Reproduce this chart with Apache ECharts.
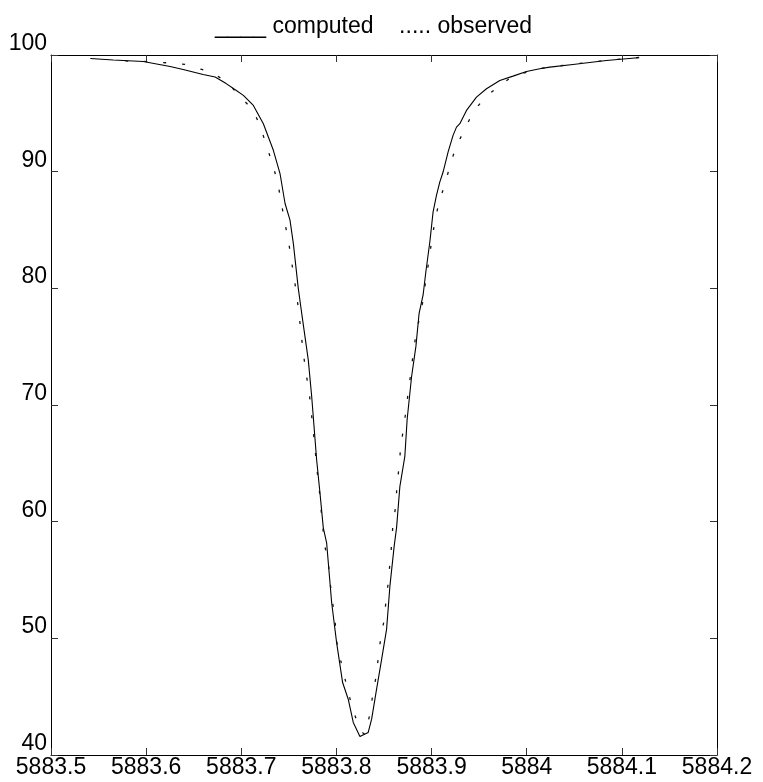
<!DOCTYPE html>
<html>
<head>
<meta charset="utf-8">
<script src="https://cdn.jsdelivr.net/npm/echarts@6/dist/echarts.min.js"></script>
<style>
html,body{margin:0;padding:0;background:#fff;}
#chart{width:763px;height:782px;}
</style>
</head>
<body>
<div id="chart"></div>
<script>
// ---- data ----
const legendText = "____ computed    ..... observed";

const xTicks = [5883.5, 5883.6, 5883.7, 5883.8, 5883.9, 5884.0, 5884.1, 5884.2];
const yTicks = [40, 50, 60, 70, 80, 90, 100];

const computedWavelength = [
  5883.5413, 5883.5654, 5883.5969, 5883.6252, 5883.6389, 5883.6599, 5883.6725, 5883.6841,
  5883.6925, 5883.7022, 5883.7127, 5883.7232, 5883.7337, 5883.7407, 5883.7460, 5883.7512, 5883.7547,
  5883.7599, 5883.7635, 5883.7704, 5883.7740, 5883.7792, 5883.7827, 5883.7862, 5883.7897,
  5883.7950, 5883.8002, 5883.8065, 5883.8124, 5883.8177, 5883.8247, 5883.8334, 5883.8370,
  5883.8422, 5883.8475, 5883.8527, 5883.8562, 5883.8607, 5883.8632, 5883.8667, 5883.8719,
  5883.8743, 5883.8790, 5883.8835, 5883.8869, 5883.8911, 5883.8940, 5883.8982, 5883.9016,
  5883.9052, 5883.9087, 5883.9121, 5883.9174, 5883.9226, 5883.9262, 5883.9297, 5883.9367,
  5883.9472, 5883.9577, 5883.9717, 5883.9856, 5883.9997, 5884.0137, 5884.0242, 5884.0486,
  5884.0837, 5884.1168
];
const computedValue = [
  99.70, 99.57, 99.44, 99.02, 98.76, 98.33, 98.12, 97.55,
  97.08, 96.54, 95.68, 94.11, 91.83, 89.84, 87.27, 85.84, 83.85,
  80.00, 77.86, 73.87, 70.73, 65.31, 62.46, 59.47, 58.19,
  53.05, 49.63, 46.21, 44.78, 42.79, 41.59, 41.93, 43.07,
  45.64, 48.20, 50.77, 54.47, 57.90, 59.47, 63.03, 65.59,
  68.73, 72.44, 75.00, 77.86, 79.43, 81.42, 83.99, 86.55,
  87.98, 89.12, 89.97, 91.69, 93.11, 93.82, 94.11, 95.25,
  96.39, 97.11, 97.82, 98.19, 98.59, 98.82, 98.96, 99.19,
  99.53, 99.76
];

const observedWavelength = [
  5883.5780, 5883.6008, 5883.6218, 5883.6410, 5883.6585, 5883.6707, 5883.6848, 5883.7127,
  5883.7204, 5883.7267, 5883.7330, 5883.7383, 5883.7418, 5883.7452, 5883.7494, 5883.7523,
  5883.7554, 5883.7582, 5883.7607, 5883.7628, 5883.7652, 5883.7677, 5883.7712, 5883.7733,
  5883.7754, 5883.7775, 5883.7792, 5883.7817, 5883.7834, 5883.7855, 5883.7872, 5883.7914,
  5883.7932, 5883.7956, 5883.7984, 5883.8002, 5883.8045, 5883.8098, 5883.8161, 5883.8247,
  5883.8300, 5883.8352, 5883.8380, 5883.8415, 5883.8439, 5883.8464, 5883.8499, 5883.8520,
  5883.8544, 5883.8562, 5883.8580, 5883.8593, 5883.8622, 5883.8635, 5883.8656, 5883.8674,
  5883.8701, 5883.8730, 5883.8754, 5883.8782, 5883.8806, 5883.8835, 5883.8919, 5883.8940,
  5883.8974, 5883.9000, 5883.9034, 5883.9076, 5883.9139, 5883.9192, 5883.9255, 5883.9349,
  5883.9436, 5883.9559, 5883.9706, 5883.9856, 5884.0137, 5884.0504, 5884.0872, 5884.1187
];
const observedValue = [
  99.49, 99.44, 99.33, 99.19, 98.76, 98.44, 97.67, 95.25,
  93.77, 92.17, 90.63, 89.03, 87.49, 85.84, 84.19, 82.57,
  80.99, 79.43, 77.78, 76.15, 74.49, 72.87, 71.24, 69.59,
  67.94, 66.32, 64.69, 63.03, 61.38, 59.75, 58.13, 56.53,
  54.90, 53.28, 51.68, 49.77, 48.10, 46.26, 44.21, 42.11,
  41.75, 43.50, 45.06, 46.64, 48.26, 49.91, 51.48, 53.10,
  54.76, 56.42, 58.04, 59.67, 61.27, 62.89, 64.57, 66.23,
  67.82, 69.44, 71.07, 72.73, 74.38, 76.01, 79.28, 80.86,
  82.42, 84.05, 85.70, 87.32, 88.90, 90.46, 92.11, 93.63,
  95.11, 96.34, 97.33, 98.19, 98.85, 99.23, 99.57, 99.79
];

// ---- chart ----
const FONT = "'Liberation Sans', Arial, sans-serif";
const pairs = (xs, ys) => xs.map((x, i) => [x, ys[i]]);
const fmtX = v => String(Number(v.toFixed(1)));

const xMin = xTicks[0], xMax = xTicks[xTicks.length - 1];
const yMin = yTicks[0], yMax = yTicks[yTicks.length - 1];
const xInt = 0.1, yInt = 10;

const chart = echarts.init(document.getElementById('chart'), null, {renderer: 'canvas'});

const baseX = {
  type: 'value', min: xMin, max: xMax, interval: xInt,
  axisLine: {show: true, lineStyle: {color: '#000', width: 1}},
  axisTick: {show: true, inside: true, length: 7, lineStyle: {color: '#333', width: 1}},
  splitLine: {show: false}
};
const baseY = {
  type: 'value', min: yMin, max: yMax, interval: yInt,
  axisLine: {show: true, lineStyle: {color: '#000', width: 1}},
  axisTick: {show: true, inside: true, length: 7, lineStyle: {color: '#333', width: 1}},
  splitLine: {show: false}
};

chart.setOption({
  animation: false,
  backgroundColor: '#fff',
  title: {
    text: legendText,
    left: 210, top: 10,
    textStyle: {fontFamily: FONT, fontSize: 23, fontWeight: 'normal', color: '#000'}
  },
  grid: {left: 51, right: 46, top: 55, bottom: 27, containLabel: false},
  xAxis: [
    Object.assign({}, baseX, {
      position: 'bottom',
      axisLabel: {show: true, margin: 1, formatter: fmtX, color: '#000',
        fontFamily: FONT, fontSize: 23, showMinLabel: true, showMaxLabel: true}
    }),
    Object.assign({}, baseX, {position: 'top', axisLabel: {show: false}})
  ],
  yAxis: [
    Object.assign({}, baseY, {
      position: 'left',
      axisLabel: {show: true, margin: 4, color: '#000', fontFamily: FONT, fontSize: 23,
        verticalAlign: 'bottom', lineHeight: 23, showMinLabel: true, showMaxLabel: true}
    }),
    Object.assign({}, baseY, {position: 'right', axisLabel: {show: false}})
  ],
  series: [
    {
      name: 'computed', type: 'line', xAxisIndex: 0, yAxisIndex: 0,
      data: pairs(computedWavelength, computedValue),
      showSymbol: false, symbol: 'none', smooth: false,
      lineStyle: {color: '#000', width: 1.1}
    },
    {
      name: 'observed', type: 'line', xAxisIndex: 0, yAxisIndex: 0,
      data: pairs(observedWavelength, observedValue),
      showSymbol: false, symbol: 'none', smooth: false,
      lineStyle: {color: '#111', width: 1.3, type: [3, 16]}
    }
  ]
});
</script>
</body>
</html>
